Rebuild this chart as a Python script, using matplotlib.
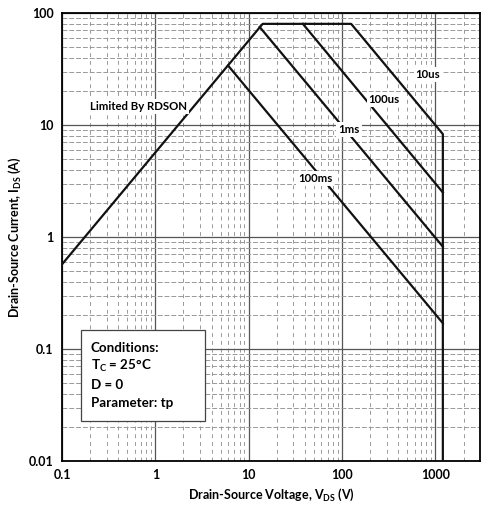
import matplotlib
matplotlib.use("Agg")
import matplotlib.pyplot as plt
from matplotlib.patches import Rectangle
from matplotlib.ticker import FixedLocator, LogLocator, NullFormatter

plt.rcParams['font.family'] = ['Lato', 'DejaVu Sans']
plt.rcParams['font.weight'] = 'bold'
plt.rcParams['axes.labelweight'] = 'bold'
plt.rcParams['mathtext.fontset'] = 'custom'
plt.rcParams['mathtext.rm'] = 'Lato:bold'
plt.rcParams['mathtext.it'] = 'Lato:bold'
plt.rcParams['mathtext.bf'] = 'Lato:bold'

# safe operating area outline: Rds(on) limit, current limit, 10us, 1200 V limit
soa_vds = [0.1, 14.1, 125, 1200, 1200]
soa_ids = [0.57, 80, 80, 8.3, 0.01]

# pulse-width lines (start, end)
pulse_100us_vds = [38, 1200]
pulse_100us_ids = [80, 2.5]
pulse_1ms_vds = [13.1, 1200]
pulse_1ms_ids = [75, 0.82]
pulse_100ms_vds = [6.0, 1200]
pulse_100ms_ids = [34, 0.17]

x_ticks = [0.1, 1, 10, 100, 1000]
x_labels = ['0.1', '1', '10', '100', '1000']
y_ticks = [0.01, 0.1, 1, 10, 100]
y_labels = ['0.01', '0.1', '1', '10', '100']

# curve labels: text, vds, ids
curve_labels = [
    ('Limited By RDSON', 0.66, 14.5),
    ('10us', 830, 28.5),
    ('100us', 282, 17),
    ('1ms', 119, 9.2),
    ('100ms', 51.5, 3.3),
]

fig = plt.figure(figsize=(4.89, 5.08), dpi=100)
ax = fig.add_axes([0.1268, 0.0925, 0.8548, 0.8819])
ax.set_xscale('log')
ax.set_yscale('log')
ax.set_xlim(0.1, 3000)
ax.set_ylim(0.01, 100)

ax.xaxis.set_major_locator(FixedLocator(x_ticks))
ax.set_xticklabels(x_labels)
ax.yaxis.set_major_locator(FixedLocator(y_ticks))
ax.set_yticklabels(y_labels)
ax.xaxis.set_minor_locator(LogLocator(base=10, subs=range(2, 10), numticks=20))
ax.yaxis.set_minor_locator(LogLocator(base=10, subs=range(2, 10), numticks=20))
ax.xaxis.set_minor_formatter(NullFormatter())
ax.yaxis.set_minor_formatter(NullFormatter())
ax.tick_params(which='both', length=0, labelsize=9, pad=6)

ax.grid(which='major', color='#555555', lw=0.9, zorder=1)
ax.grid(which='minor', axis='x', color='#999999', lw=0.7, dashes=(4, 4))
ax.grid(which='minor', axis='y', color='#999999', lw=0.7, dashes=(5, 2))
ax.set_axisbelow(True)
for s in ax.spines.values():
    s.set_linewidth(1.3)

lw = 1.6
ax.plot(soa_vds, soa_ids, color='#111111', lw=lw, zorder=3)
ax.plot(pulse_100us_vds, pulse_100us_ids, color='#111111', lw=lw, zorder=3)
ax.plot(pulse_1ms_vds, pulse_1ms_ids, color='#111111', lw=lw, zorder=3)
ax.plot(pulse_100ms_vds, pulse_100ms_ids, color='#111111', lw=lw, zorder=3)

for txt, vx, iy in curve_labels:
    ax.text(vx, iy, txt, fontsize=8.2, ha='center', va='center', zorder=5,
            bbox=dict(facecolor='white', edgecolor='none', pad=1.5))

ax.add_patch(Rectangle((0.045, 0.089), 0.297, 0.203, transform=ax.transAxes,
                       facecolor='white', edgecolor='#444444', lw=0.9, zorder=6))
cond_lines = ['Conditions:', 'T$_\\mathrm{C}$ = 25°C', 'D = 0', 'Parameter: tp']
for k, line in enumerate(cond_lines):
    ax.text(0.069, 0.253 - k * 0.0415, line, transform=ax.transAxes,
            fontsize=9.6, va='center', ha='left', zorder=7)

ax.set_xlabel('Drain-Source Voltage, V$_\\mathrm{DS}$ (V)', fontsize=9, labelpad=4)
ax.set_ylabel('Drain-Source Current, I$_\\mathrm{DS}$ (A)', fontsize=9, labelpad=4)

fig.savefig('out.png', dpi=100)
